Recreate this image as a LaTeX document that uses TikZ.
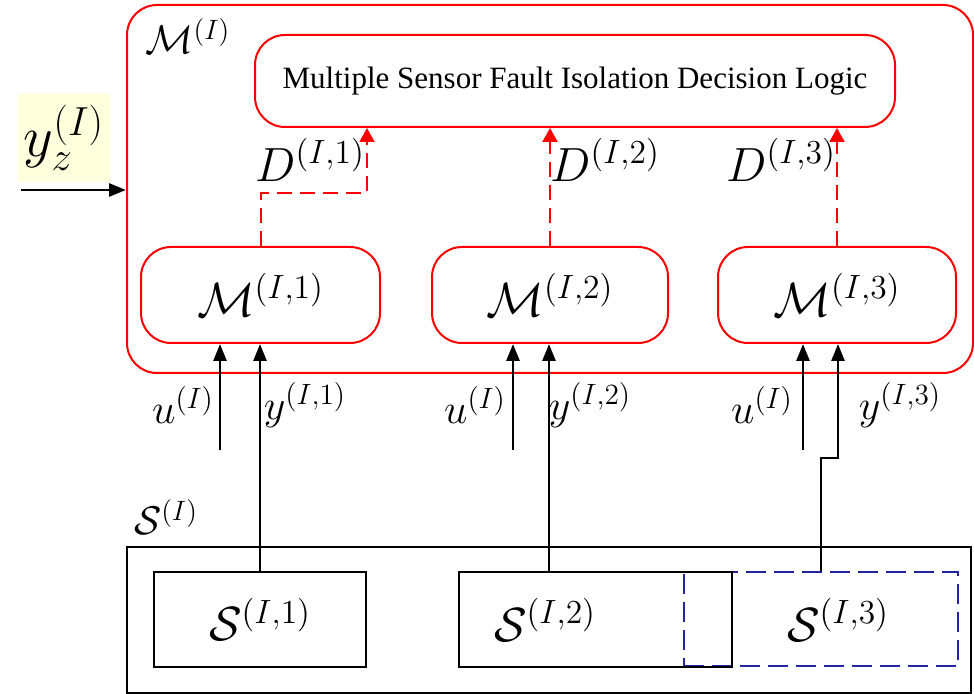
\RequirePackage{fix-cm}
\documentclass[tikz,border=0pt]{standalone}
\usepackage{fontspec}
\setmainfont{Liberation Serif}
\usetikzlibrary{arrows.meta}
\definecolor{sysred}{RGB}{255,0,0}
\definecolor{sensblue}{RGB}{35,35,165}
\definecolor{paleyellow}{RGB}{255,255,222}
\newcommand{\fsz}[1]{\fontsize{#1}{#1}\selectfont}
\tikzset{>={Triangle[length=8.5pt,width=6.5pt]},
  modbox/.style={draw=sysred,line width=1pt,rounded corners=15pt,inner sep=0pt},
  senbox/.style={draw,line width=1.4pt,inner sep=0pt},
  sig/.style={line width=1.4pt,->},
  dsig/.style={sysred,line width=1pt,dash pattern=on 7.5pt off 4pt,-{Triangle[length=7pt,width=7.5pt]}},
  lbl/.style={inner sep=0pt,font=\fsz{21}},
  big/.style={inner sep=0pt,font=\fsz{24}}}

\begin{document}
\begin{tikzpicture}[x=.5pt,y=-.5pt]
\useasboundingbox (0,0) rectangle (974,694);
% monitoring module
\node[modbox,minimum width=423pt,minimum height=184pt] (Mbig) at (550,189) {};
\node[big,font=\fsz{20}] (lMbig) at (188,36) {$\mathcal{M}^{(I)}$};
\node[modbox,minimum width=320pt,minimum height=46pt,font=\fsz{15.5}] (logic) at (575,81) {Multiple Sensor Fault Isolation Decision Logic};
\node[modbox,minimum width=119.5pt,minimum height=48pt,big] (m1) at (260.5,295) {$\mathcal{M}^{(I,1)}$};
\node[modbox,minimum width=118pt,minimum height=48pt,big] (m2) at (550,295) {$\mathcal{M}^{(I,2)}$};
\node[modbox,minimum width=119pt,minimum height=48pt,big] (m3) at (837,295) {$\mathcal{M}^{(I,3)}$};
% sensor set
\node[senbox,minimum width=422pt,minimum height=73pt] (Sbig) at (549,620) {};
\node[big,font=\fsz{20}] (lSbig) at (166,517) {$\mathcal{S}^{(I)}$};
\node[draw=sensblue,line width=1.3pt,dash pattern=on 10pt off 4pt,inner sep=0pt,minimum width=137pt,minimum height=47pt] (s3) at (821,619) {};
\node[big] (ls3) at (838,620) {$\mathcal{S}^{(I,3)}$};
\node[senbox,minimum width=106pt,minimum height=47.5pt,big] (s1) at (260,619.5) {$\mathcal{S}^{(I,1)}$};
\node[senbox,minimum width=136.5pt,minimum height=47.5pt] (s2) at (595.5,619.5) {};
\node[big] (ls2) at (545,620) {$\mathcal{S}^{(I,2)}$};
% input
\node[fill=paleyellow,minimum width=46pt,minimum height=44.5pt,inner sep=0pt,font=\fsz{29}] (yz) at (64,137.5) {$y_z^{(I)}$};
\coordinate (yzin) at (21,190);
\draw[sig] (yzin) -- (yzin -| Mbig.west);
% residual signals
\coordinate (d1turn) at (367,193);
\draw[dsig] (m1.north) |- (d1turn) -- (d1turn |- logic.south);
\draw[dsig] (m2.north) -- (m2.north |- logic.south);
\draw[dsig] (m3.north) -- (m3.north |- logic.south);
\node[big] (lD1) at (310,160) {$D^{(I,1)}$};
\node[big] (lD2) at (605,160) {$D^{(I,2)}$};
\node[big] (lD3) at (781,160) {$D^{(I,3)}$};
% inputs and measurements
\coordinate (u1) at (220,450);\coordinate (u2) at (513,450);\coordinate (u3) at (803,450);
\coordinate (y2in) at (549,572);\coordinate (jog) at (838,458);
\draw[sig] (u1) -- (u1 |- m1.south);\draw[sig] (u2) -- (u2 |- m2.south);\draw[sig] (u3) -- (u3 |- m3.south);
\draw[sig] (s1.north) -- (s1.north |- m1.south);
\draw[sig] (y2in) -- (y2in |- m2.south);
\draw[sig] (s3.north) |- (jog) -- (jog |- m3.south);
\node[lbl] (lu1) at (183,405) {$u^{(I)}$};\node[lbl] (ly1) at (305,405) {$y^{(I,1)}$};
\node[lbl] (lu2) at (475,405) {$u^{(I)}$};\node[lbl] (ly2) at (590,405) {$y^{(I,2)}$};
\node[lbl] (lu3) at (762,405) {$u^{(I)}$};\node[lbl] (ly3) at (900,405) {$y^{(I,3)}$};
\end{tikzpicture}
\end{document}
